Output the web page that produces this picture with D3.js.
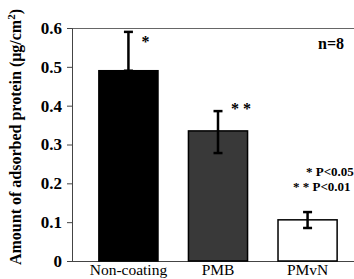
<!DOCTYPE html>
<html><head><meta charset="utf-8">
<script src="https://cdn.jsdelivr.net/npm/d3@7"></script>
<style>body{margin:0;background:#fff}svg{display:block}svg text{font-family:"Liberation Serif","Times New Roman",serif !important}</style>
</head><body><svg id="c" width="354" height="279"></svg>
<script>
const categories = ["Non-coating","PMB","PMvN"];
const values = [0.49, 0.335, 0.106];
const errTop = [0.59, 0.386, 0.126];
const errBottom = [0.49, 0.278, 0.085];
const stars = ["*","* *",""];
const fills = ["#000","#393939","#fff"];
const yTicks = [0,0.1,0.2,0.3,0.4,0.5,0.6];

const svg = d3.select("#c");
const x0 = 72, yTop = 28, yBot = 261;
const y = d3.scaleLinear().domain([0,0.6]).range([yBot,yTop]);
const x = d3.scaleBand().domain(categories).range([72,364]).paddingInner(0.34).paddingOuter(0.30);

svg.append("line").attr("x1",x0).attr("x2",354).attr("y1",yTop+0.5).attr("y2",yTop+0.5).attr("stroke","#666").attr("stroke-width",1);

const gy = svg.append("g").attr("transform",`translate(${x0},0)`)
  .call(d3.axisLeft(y).tickValues(yTicks).tickFormat(d=>d===0?"0":d3.format(".1f")(d)).tickSize(5).tickPadding(5));
gy.attr("font-family",null);
gy.select(".domain").attr("stroke","#444");
gy.selectAll(".tick line").attr("stroke","#444");
gy.selectAll(".tick text").style("font-size","17px").style("font-weight","bold").attr("fill","#000");

const gx = svg.append("g").attr("transform",`translate(0,${yBot})`)
  .call(d3.axisBottom(x).tickSize(0).tickPadding(3));
gx.attr("font-family",null);
gx.select(".domain").attr("d",`M${x0},0.5H354`).attr("stroke","#444");
gx.selectAll(".tick text").style("font-size","15.5px").attr("fill","#000");

svg.selectAll("rect.bar").data(categories).enter().append("rect").attr("class","bar")
  .attr("x",d=>x(d)).attr("width",x.bandwidth())
  .attr("y",(d,i)=>y(values[i])).attr("height",(d,i)=>yBot-y(values[i]))
  .attr("fill",(d,i)=>fills[i]).attr("stroke","#000").attr("stroke-width",1.5);

categories.forEach((c,i)=>{
  const cx = x(c)+x.bandwidth()/2;
  const t = y(errTop[i]), b = y(errBottom[i]);
  svg.append("line").attr("x1",cx).attr("x2",cx).attr("y1",t).attr("y2",b).attr("stroke","#000").attr("stroke-width",2.5);
  svg.append("line").attr("x1",cx-4.5).attr("x2",cx+4.5).attr("y1",t).attr("y2",t).attr("stroke","#000").attr("stroke-width",2.5);
  svg.append("line").attr("x1",cx-4.5).attr("x2",cx+4.5).attr("y1",b).attr("y2",b).attr("stroke","#000").attr("stroke-width",2.5);
  if (stars[i]) {
    const dy = i===0 ? 6 : -6;
    svg.append("text").attr("x",cx+13).attr("y",t+dy+9).style("font-size","16px").style("font-weight","bold").text(stars[i]);
  }
});

svg.append("text").attr("x",318).attr("y",49).style("font-size","16px").style("font-weight","bold").text("n=8");
svg.append("text").attr("x",306).attr("y",176).style("font-size","13px").style("font-weight","bold").text("* P<0.05");
svg.append("text").attr("x",293).attr("y",191).style("font-size","13px").style("font-weight","bold").text("* * P<0.01");

svg.append("text").attr("transform","translate(21,137) rotate(-90)").attr("text-anchor","middle")
  .style("font-size","16px").style("font-weight","bold")
  .html('Amount of adsorbed protein (μg/cm<tspan dy="-6" style="font-size:11px">2</tspan><tspan dy="6">)</tspan>');
</script></body></html>
